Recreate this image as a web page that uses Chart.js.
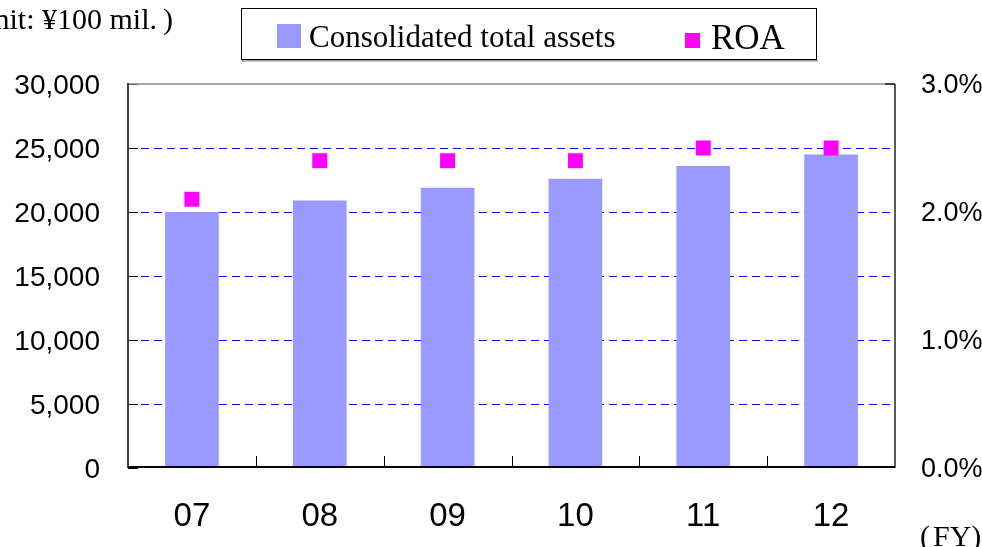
<!DOCTYPE html>
<html>
<head>
<meta charset="utf-8">
<script src="https://cdn.jsdelivr.net/npm/chart.js@4"></script>
<style>
  html, body { margin: 0; padding: 0; background: #fff; }
  #chart { display: block; }
</style>
</head>
<body>
<canvas id="chart" width="982" height="547"></canvas>
<script>
// datos
const years = ['07', '08', '09', '10', '11', '12'];
const totalAssets = [20000, 20900, 21900, 22600, 23600, 24500]; // 100 mil. yen
const roa = [2.1, 2.4, 2.4, 2.4, 2.5, 2.5]; // %
const assetsAxis = { min: 0, max: 30000, step: 5000 };
const roaAxis = { min: 0, max: 3, step: 1 };

const barColor = '#9999ff';
const roaColor = '#ff00ff';
const sans = '"Liberation Sans", Arial, sans-serif';
const serif = '"Liberation Serif", "Times New Roman", serif';

// marcos, ticks hacia dentro, leyenda y textos sueltos
const decoPlugin = {
  id: 'deco',
  afterDatasetsDraw(chart) {
    const ctx = chart.ctx;
    const a = chart.chartArea;
    const x = chart.scales.x;
    const y = chart.scales.y;
    ctx.save();

    // inner ticks on the left axis
    ctx.strokeStyle = '#000';
    ctx.lineWidth = 1;
    for (let v = assetsAxis.min; v <= assetsAxis.max; v += assetsAxis.step) {
      const py = Math.round(y.getPixelForValue(v)) + 0.5;
      ctx.beginPath(); ctx.moveTo(a.left, py); ctx.lineTo(a.left + 10, py); ctx.stroke();
    }
    // inner ticks between categories
    for (let i = 1; i < years.length; i++) {
      const px = Math.round((x.getPixelForTick(i - 1) + x.getPixelForTick(i)) / 2) + 0.5;
      ctx.beginPath(); ctx.moveTo(px, a.bottom); ctx.lineTo(px, a.bottom - 12); ctx.stroke();
    }

    // frame
    ctx.strokeStyle = '#888';
    ctx.lineWidth = 1.5;
    ctx.beginPath(); ctx.moveTo(a.left, a.top); ctx.lineTo(a.right, a.top); ctx.stroke();
    ctx.strokeStyle = '#222';
    ctx.beginPath(); ctx.moveTo(a.right - 10, a.top); ctx.lineTo(a.right, a.top); ctx.stroke();
    ctx.beginPath(); ctx.moveTo(a.right, a.top); ctx.lineTo(a.right, a.bottom); ctx.stroke();
    ctx.strokeStyle = '#404040';
    ctx.lineWidth = 2;
    ctx.beginPath(); ctx.moveTo(a.left, a.top - 1); ctx.lineTo(a.left, a.bottom); ctx.stroke();
    ctx.strokeStyle = '#000';
    ctx.beginPath(); ctx.moveTo(a.left, a.bottom - 1); ctx.lineTo(a.right, a.bottom - 1); ctx.stroke();

    // legend
    ctx.fillStyle = '#999';
    ctx.fillRect(242, 60, 576, 1.5);
    ctx.strokeStyle = '#000';
    ctx.lineWidth = 1;
    ctx.strokeRect(241.5, 8.5, 575, 51);
    ctx.fillStyle = barColor;
    ctx.fillRect(277, 24, 24, 24);
    ctx.fillStyle = roaColor;
    ctx.fillRect(685, 33, 15, 15);
    ctx.fillStyle = '#000';
    ctx.textBaseline = 'alphabetic';
    ctx.textAlign = 'left';
    ctx.font = '31px ' + serif;
    ctx.fillText('Consolidated total assets', 309, 47);
    ctx.font = '35px ' + serif;
    ctx.fillText('ROA', 711, 49);

    // unit y FY
    ctx.font = '30px ' + serif;
    ctx.textAlign = 'right';
    ctx.fillText('(Unit: \u00a5100 mil.', 157, 29);
    ctx.textAlign = 'left';
    ctx.fillText(')', 163, 29);
    ctx.font = '30px ' + serif;
    ctx.fillText('(', 920, 546);
    ctx.fillText('FY)', 933, 546);

    ctx.restore();
  }
};

const chart = new Chart(document.getElementById('chart'), {
  data: {
    labels: years,
    datasets: [
      {
        type: 'line',
        label: 'ROA',
        data: roa,
        yAxisID: 'y1',
        showLine: false,
        pointStyle: 'rect',
        pointRadius: 10.6,
        pointBorderWidth: 0,
        pointBackgroundColor: roaColor,
        pointBorderColor: roaColor,
        order: 1
      },
      {
        type: 'bar',
        label: 'Consolidated total assets',
        data: totalAssets,
        yAxisID: 'y',
        backgroundColor: barColor,
        borderWidth: 0,
        barPercentage: 0.42,
        categoryPercentage: 1,
        order: 2
      }
    ]
  },
  options: {
    responsive: false,
    animation: false,
    layout: { padding: { top: 84, left: 0, right: 0, bottom: 0 } },
    plugins: { legend: { display: false }, tooltip: { enabled: false } },
    scales: {
      x: {
        offset: true,
        grid: { display: false, drawTicks: false },
        border: { display: false },
        ticks: { color: '#000', padding: 29, font: { family: sans, size: 33 } },
        afterFit(scale) { scale.height = 79; }
      },
      y: {
        position: 'left',
        min: assetsAxis.min,
        max: assetsAxis.max,
        grid: {
          drawTicks: false,
          lineWidth: 1,
          color: c => (c.tick.value === assetsAxis.min || c.tick.value === assetsAxis.max) ? 'rgba(0,0,0,0)' : '#0000ff'
        },
        border: { display: false, dash: [8, 5] },
        ticks: {
          stepSize: assetsAxis.step,
          color: '#000',
          padding: 28,
          labelOffset: 2,
          font: { family: sans, size: 28 },
          callback: v => v.toLocaleString('en-US')
        },
        afterFit(scale) { scale.width = 128; }
      },
      y1: {
        position: 'right',
        min: roaAxis.min,
        max: roaAxis.max,
        grid: { display: false, drawTicks: false },
        border: { display: false },
        ticks: {
          stepSize: roaAxis.step,
          color: '#000',
          padding: 26,
          labelOffset: 2,
          font: { family: sans, size: 27 },
          callback: v => v.toFixed(1) + '%'
        },
        afterFit(scale) { scale.width = 87; }
      }
    }
  },
  plugins: [decoPlugin]
});
</script>
</body>
</html>
